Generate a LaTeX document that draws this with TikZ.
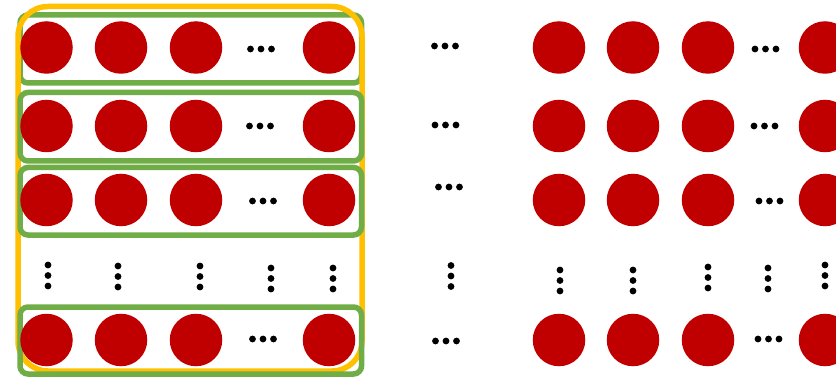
\documentclass[tikz,border=0pt]{standalone}
\usepackage{tikz}
\definecolor{ballred}{HTML}{C00000}
\definecolor{boxgreen}{HTML}{70AD47}
\definecolor{boxyellow}{HTML}{FFC000}
\tikzset{
  ball/.style={circle,fill=ballred,draw=none,inner sep=0pt,minimum size=52.5pt},
  rowbox/.style={draw=boxgreen,line width=5.5pt,rounded corners=8pt},
  groupbox/.style={draw=boxyellow,line width=5.5pt,rounded corners=30pt},
  dotmark/.style={fill=black}
}
\newcommand{\myhdots}[2]{%
  \foreach \dx in {-10.5,0,10.5} {\fill[dotmark] ([xshift=\dx pt]#1,#2) circle (3.4pt);}}
\newcommand{\myvdots}[2]{%
  \foreach \dy in {-10.5,0,10.5} {\fill[dotmark] ([yshift=\dy pt]#1,#2) circle (3.4pt);}}
\begin{document}
\begin{tikzpicture}[x=1pt,y=-1pt]
\useasboundingbox (0,0) rectangle (836,377);
% first row box under the yellow group box
\draw[rowbox] (20,15) rectangle (361.5,83) coordinate (rb1);
\draw[groupbox] (18,6.5) rectangle (362,371) coordinate (gb);
\draw[rowbox] (20,92.5) rectangle (361.5,161) coordinate (rb2);
\draw[rowbox] (20,167.5) rectangle (361.5,235) coordinate (rb3);
\draw[rowbox] (20,307) rectangle (361.5,374) coordinate (rb5);
% balls
\foreach \r/\y in {1/47.5,2/126,3/200,5/340} {
  \foreach \c/\x in {1/46.5,2/121,3/196,5/329} {
    \node[ball] (L\r\c) at (\x,\y) {};
  }
  \foreach \c/\x in {1/559,2/633,3/708,5/825} {
    \node[ball] (R\r\c) at (\x,\y) {};
  }
}
% horizontal dots
\myhdots{261}{49}
\myhdots{260}{126}
\myhdots{263}{201}
\myhdots{263}{339}
\myhdots{765.5}{49}
\myhdots{764.5}{126}
\myhdots{769.5}{201}
\myhdots{768.5}{339}
\myhdots{445}{46}
\myhdots{445.5}{125}
\myhdots{449}{187}
\myhdots{446}{341}
% vertical dots
\myvdots{48}{275.5}
\myvdots{118}{276.5}
\myvdots{200}{276.5}
\myvdots{271}{278.5}
\myvdots{333}{278.5}
\myvdots{451}{276}
\myvdots{560}{280.5}
\myvdots{633}{280.5}
\myvdots{708}{277.5}
\myvdots{768}{278.5}
\myvdots{825}{275.5}
\end{tikzpicture}
\end{document}
